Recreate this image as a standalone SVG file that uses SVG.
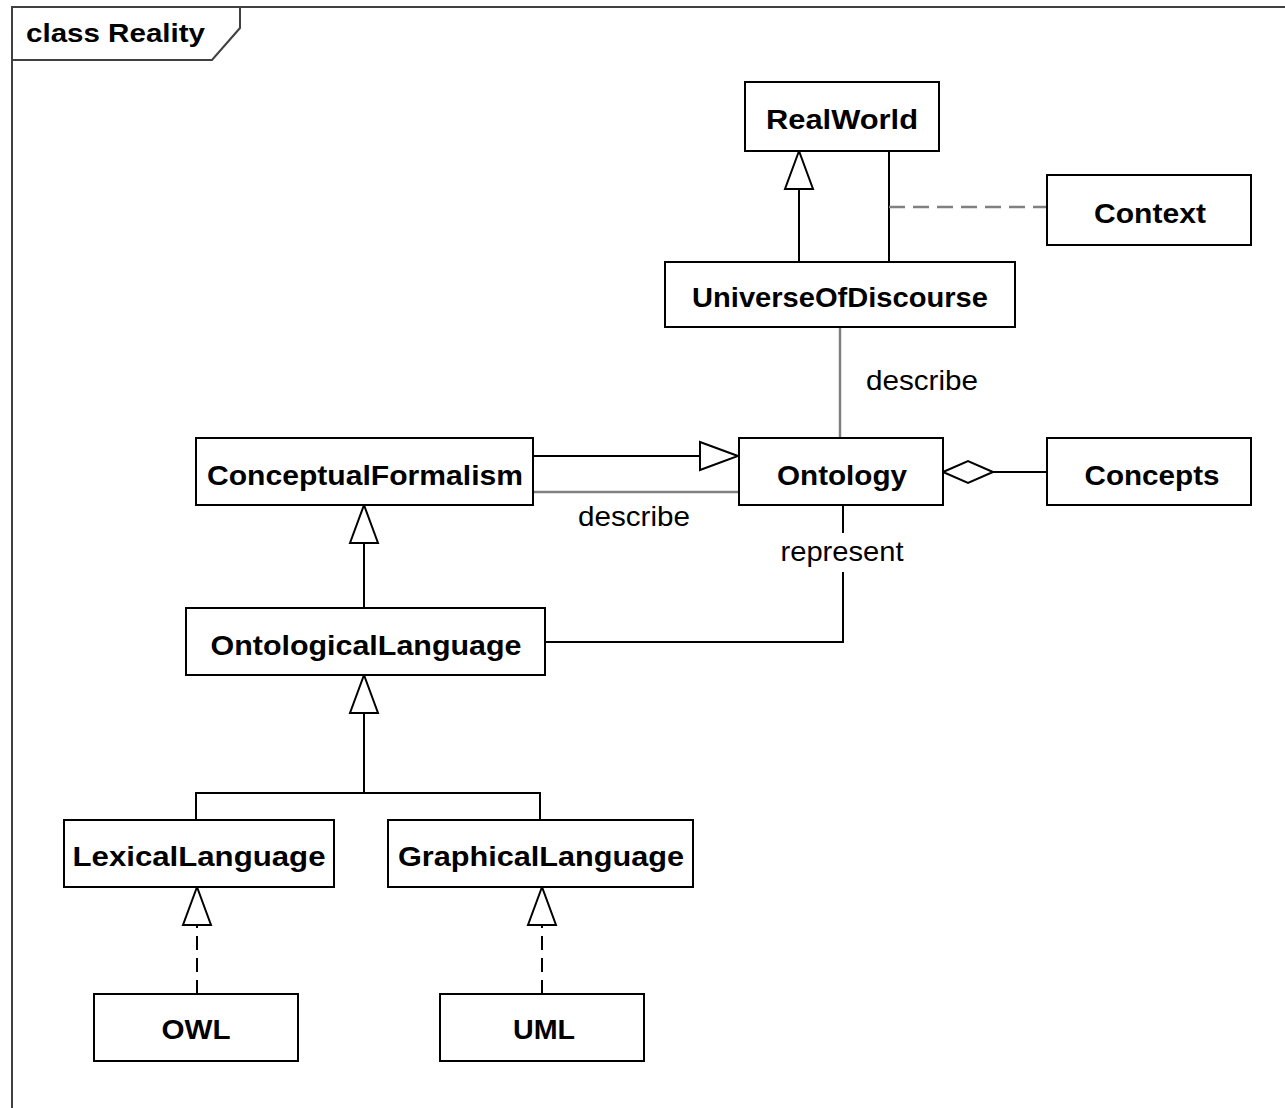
<svg xmlns="http://www.w3.org/2000/svg" width="1285" height="1108" viewBox="0 0 1285 1108">
  <style>
    .box { fill: #ffffff; stroke: #000000; stroke-width: 2; }
    .name { font-family: "Liberation Sans", Arial, sans-serif; font-weight: bold; font-size: 27px; fill: #000000; text-anchor: middle; }
    .lbl { font-family: "Liberation Sans", Arial, sans-serif; font-size: 28px; fill: #000000; text-anchor: middle; }
    .edge { fill: none; stroke: #000000; stroke-width: 2; }
    .grey { fill: none; stroke: #808080; stroke-width: 2.5; }
    .dash { stroke-dasharray: 14 8; }
    .gdash { fill: none; stroke: #808080; stroke-width: 2.5; stroke-dasharray: 16 8; }
    .frame { fill: none; stroke: #404040; stroke-width: 2; }
  </style>
  <defs>
    <!-- hollow triangle for generalization / realization -->
    <marker id="gen" markerUnits="userSpaceOnUse" viewBox="-2 -2 42 32" markerWidth="42" markerHeight="32" refX="38" refY="14" orient="auto">
      <path d="M38,14 L0,0 L0,28 Z" fill="#ffffff" stroke="#000000" stroke-width="2"/>
    </marker>
    <!-- hollow diamond for aggregation -->
    <marker id="agg" markerUnits="userSpaceOnUse" viewBox="-2 -2 54 26" markerWidth="54" markerHeight="26" refX="0" refY="11" orient="auto">
      <path d="M0,11 L25,0 L50,11 L25,22 Z" fill="#ffffff" stroke="#000000" stroke-width="2"/>
    </marker>
  </defs>

  <rect x="0" y="0" width="1285" height="1108" fill="#ffffff"/>

  <!-- package frame -->
  <g id="frame">
    <path class="frame" d="M12,1108 V7 H1285"/>
    <path class="frame" d="M12,60 H212 L240,28 V7"/>
    <text x="26" y="42" font-family="Liberation Sans, Arial, sans-serif" font-weight="bold" font-size="26" textLength="179" lengthAdjust="spacingAndGlyphs">class Reality</text>
  </g>

  <!-- connectors -->
  <g id="connectors">
    <path class="edge" d="M799,262 V151" marker-end="url(#gen)"/>
    <path class="edge" d="M889,151 V262"/>
    <path class="gdash" d="M889,207 H1047"/>
    <path class="grey" d="M840,327 V438"/>
    <text class="lbl" x="922" y="390" textLength="112" lengthAdjust="spacingAndGlyphs">describe</text>
    <path class="edge" d="M533,456 H738" marker-end="url(#gen)"/>
    <path class="grey" d="M533,492 H739"/>
    <text class="lbl" x="634" y="526" textLength="112" lengthAdjust="spacingAndGlyphs">describe</text>
    <path class="edge" d="M943,472 H1047" marker-start="url(#agg)"/>
    <path class="edge" d="M843,505 V533"/>
    <path class="edge" d="M843,572 V642 H545"/>
    <text class="lbl" x="842" y="561" textLength="123" lengthAdjust="spacingAndGlyphs">represent</text>
    <path class="edge" d="M364,608 V505" marker-end="url(#gen)"/>
    <path class="edge" d="M196,820 V793 H540 V820"/>
    <path class="edge" d="M364,793 V675" marker-end="url(#gen)"/>
    <path class="edge dash" d="M197,994 V887" marker-end="url(#gen)"/>
    <path class="edge dash" d="M542,994 V887" marker-end="url(#gen)"/>
  </g>

  <!-- classes -->
  <g id="RealWorld">
    <rect class="box" x="745" y="82" width="194" height="69"/>
    <text class="name" x="842" y="129" textLength="152" lengthAdjust="spacingAndGlyphs">RealWorld</text>
  </g>
  <g id="Context">
    <rect class="box" x="1047" y="175" width="204" height="70"/>
    <text class="name" x="1150" y="223" textLength="112" lengthAdjust="spacingAndGlyphs">Context</text>
  </g>
  <g id="UniverseOfDiscourse">
    <rect class="box" x="665" y="262" width="350" height="65"/>
    <text class="name" x="840" y="307" textLength="296" lengthAdjust="spacingAndGlyphs">UniverseOfDiscourse</text>
  </g>
  <g id="ConceptualFormalism">
    <rect class="box" x="196" y="438" width="337" height="67"/>
    <text class="name" x="365" y="485" textLength="316" lengthAdjust="spacingAndGlyphs">ConceptualFormalism</text>
  </g>
  <g id="Ontology">
    <rect class="box" x="739" y="438" width="204" height="67"/>
    <text class="name" x="842" y="485" textLength="130" lengthAdjust="spacingAndGlyphs">Ontology</text>
  </g>
  <g id="Concepts">
    <rect class="box" x="1047" y="438" width="204" height="67"/>
    <text class="name" x="1152" y="485" textLength="135" lengthAdjust="spacingAndGlyphs">Concepts</text>
  </g>
  <g id="OntologicalLanguage">
    <rect class="box" x="186" y="608" width="359" height="67"/>
    <text class="name" x="366" y="655" textLength="311" lengthAdjust="spacingAndGlyphs">OntologicalLanguage</text>
  </g>
  <g id="LexicalLanguage">
    <rect class="box" x="64" y="820" width="270" height="67"/>
    <text class="name" x="199" y="866" textLength="253" lengthAdjust="spacingAndGlyphs">LexicalLanguage</text>
  </g>
  <g id="GraphicalLanguage">
    <rect class="box" x="388" y="820" width="305" height="67"/>
    <text class="name" x="541" y="866" textLength="286" lengthAdjust="spacingAndGlyphs">GraphicalLanguage</text>
  </g>
  <g id="OWL">
    <rect class="box" x="94" y="994" width="204" height="67"/>
    <text class="name" x="196" y="1039" textLength="69" lengthAdjust="spacingAndGlyphs">OWL</text>
  </g>
  <g id="UML">
    <rect class="box" x="440" y="994" width="204" height="67"/>
    <text class="name" x="544" y="1039" textLength="62" lengthAdjust="spacingAndGlyphs">UML</text>
  </g>
</svg>
